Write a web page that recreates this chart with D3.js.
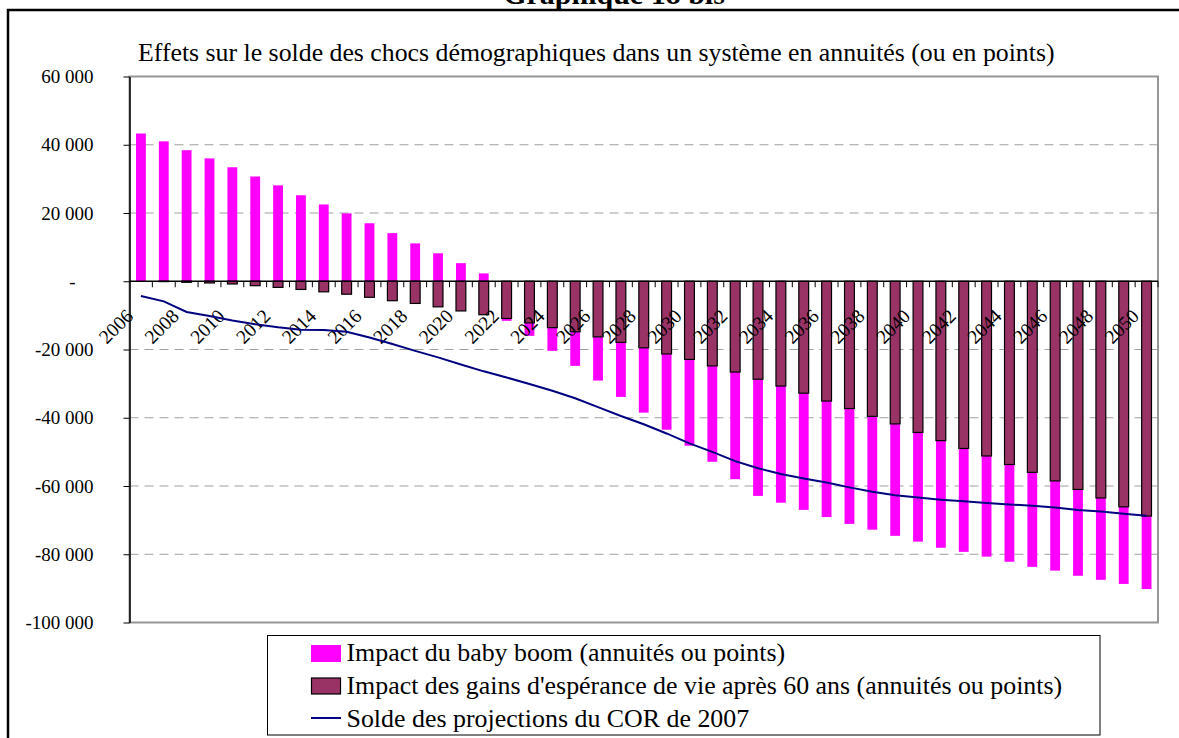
<!DOCTYPE html>
<html>
<head>
<meta charset="utf-8">
<script src="https://cdnjs.cloudflare.com/ajax/libs/d3/7.8.5/d3.min.js"></script>
<style>
  body { margin: 0; background: #fff; }
  svg { display: block; font-family: "Liberation Serif", "Times New Roman", serif; }
</style>
</head>
<body>
<svg id="chart" width="1179" height="738"></svg>
<script>
// categories
const years = [2006, 2007, 2008, 2009, 2010, 2011, 2012, 2013, 2014, 2015,
  2016, 2017, 2018, 2019, 2020, 2021, 2022, 2023, 2024, 2025,
  2026, 2027, 2028, 2029, 2030, 2031, 2032, 2033, 2034, 2035,
  2036, 2037, 2038, 2039, 2040, 2041, 2042, 2043, 2044, 2045,
  2046, 2047, 2048, 2049, 2050];

// Impact du baby boom (pink)
const babyBoom = [43300, 41000, 38400, 36000, 33400, 30700, 28100, 25200, 22500, 19900,
  17000, 14100, 11100, 8200, 5300, 2300, -700, -3800, -6800, -10000,
  -12800, -16000, -19000, -22200, -25300, -28100, -31400, -34200, -34200, -34200,
  -34000, -33800, -33200, -32800, -32000, -31400, -30300, -29500, -28500, -27700,
  -26300, -25300, -24000, -22600, -21400];

// Impact des gains d'espérance de vie (maroon)
const gainsEsperance = [0, -100, -300, -500, -800, -1300, -1800, -2400, -3100, -3800,
  -4700, -5700, -6500, -7500, -8700, -9800, -10900, -12200, -13600, -14800,
  -16300, -17900, -19500, -21300, -22900, -24800, -26600, -28700, -30700, -32800,
  -35100, -37300, -39600, -41800, -44300, -46700, -49000, -51200, -53700, -56000,
  -58500, -61000, -63500, -66100, -68800];

// Solde des projections du COR de 2007 (line)
const soldeCor = [-4300, -5900, -9000, -10200, -11500, -12600, -13500, -14200, -14300, -14800,
  -16500, -18400, -20400, -22300, -24400, -26400, -28200, -30100, -32100, -34300,
  -36900, -39500, -41900, -44600, -47500, -50000, -52700, -54800, -56500, -57800,
  -59000, -60400, -61700, -62700, -63400, -64000, -64500, -65000, -65400, -65800,
  -66300, -67000, -67500, -68100, -68700];

const yTicks = [60000, 40000, 20000, 0, -20000, -40000, -60000, -80000, -100000];

const legendLabels = [
  'Impact du baby boom (annuités ou points)',
  "Impact des gains d'espérance de vie après 60 ans (annuités ou points)",
  'Solde des projections du COR de 2007'
];

const PINK = '#ff00ff';
const MAROON = '#993366';
const NAVY = '#000080';

const svg = d3.select('#chart');
const plot = { left: 129.5, right: 1158, top: 76.5, bottom: 622.5 };

const x = d3.scaleBand()
  .domain(years)
  .range([plot.left, plot.right])
  .paddingInner(0.57)
  .paddingOuter(0.285);

const y = d3.scaleLinear()
  .domain([-100000, 60000])
  .range([plot.bottom, plot.top]);

const fr = d3.formatLocale({ decimal: ',', thousands: ' ', grouping: [3], currency: ['', ''], minus: '-' });
const fmt = fr.format(',.0f');

// outer frame (page box) and page title, cut at the top like the source
svg.append('path')
  .attr('d', 'M8,738 V10 H1179')
  .attr('fill', 'none')
  .attr('stroke', '#000')
  .attr('stroke-width', 2.5);

svg.append('text')
  .attr('x', 614)
  .attr('y', 4)
  .attr('text-anchor', 'middle')
  .style('font-size', '30px')
  .style('font-weight', 'bold')
  .text('Graphique 18 bis');

// chart title
svg.append('text')
  .attr('x', 138)
  .attr('y', 61)
  .style('font-size', '25.8px')
  .text('Effets sur le solde des chocs démographiques dans un système en annuités (ou en points)');

// gridlines
svg.append('g')
  .selectAll('line')
  .data(yTicks.filter(v => v !== 0 && v !== 60000 && v !== -100000))
  .join('line')
  .attr('x1', plot.left)
  .attr('x2', plot.right)
  .attr('y1', d => y(d))
  .attr('y2', d => y(d))
  .attr('stroke', '#a0a0a0')
  .attr('stroke-width', 1)
  .attr('stroke-dasharray', '9,6');

// plot area border
svg.append('rect')
  .attr('x', plot.left)
  .attr('y', plot.top)
  .attr('width', plot.right - plot.left)
  .attr('height', plot.bottom - plot.top)
  .attr('fill', 'none')
  .attr('stroke', '#969696')
  .attr('stroke-width', 2);

// stacked bars
const rows = years.map((yr, i) => ({ year: yr, gains: gainsEsperance[i], baby: babyBoom[i] }));
const stacked = d3.stack()
  .keys(['gains', 'baby'])
  .offset(d3.stackOffsetDiverging)(rows);

const colors = { gains: MAROON, baby: PINK };

// pink first, maroon on top so its outline stays visible
[stacked[1], stacked[0]].forEach(s => {
  svg.append('g')
    .selectAll('rect')
    .data(s)
    .join('rect')
    .attr('x', d => x(d.data.year))
    .attr('width', x.bandwidth())
    .attr('y', d => y(d[1]))
    .attr('height', d => y(d[0]) - y(d[1]))
    .attr('fill', colors[s.key])
    .attr('stroke', s.key === 'gains' ? '#000' : 'none')
    .attr('stroke-width', 1.2);
});

// y axis
const yAxis = svg.append('g')
  .attr('transform', `translate(${plot.left},0)`)
  .call(d3.axisLeft(y).tickValues(yTicks).tickSize(6).tickSizeOuter(0).tickPadding(30)
    .tickFormat(v => v === 0 ? '-' : fmt(v)));
yAxis.attr('font-family', null).attr('font-size', null);
yAxis.selectAll('text').style('font-size', '19px').attr('fill', '#000');
yAxis.selectAll('line').attr('stroke', '#000');
yAxis.select('.domain').attr('stroke', '#000').attr('stroke-width', 1.5);
yAxis.selectAll('.tick').filter(d => d === 0).select('text').attr('dx', -18);

// x axis along zero
const y0 = y(0);
svg.append('line')
  .attr('x1', plot.left)
  .attr('x2', plot.right)
  .attr('y1', y0)
  .attr('y2', y0)
  .attr('stroke', '#000')
  .attr('stroke-width', 1.5);

const gap = (x.step() - x.bandwidth()) / 2;
svg.append('g')
  .selectAll('line')
  .data(years.slice(1).map(yr => x(yr) - gap).concat([plot.right]))
  .join('line')
  .attr('x1', d => d)
  .attr('x2', d => d)
  .attr('y1', y0)
  .attr('y2', y0 + 6)
  .attr('stroke', '#000')
  .attr('stroke-width', 1);

svg.append('g')
  .selectAll('text')
  .data(years.filter(yr => yr % 2 === 0))
  .join('text')
  .attr('transform', d => `translate(${x(d) + x.bandwidth() / 2 - 6.5},${y0 + 36}) rotate(-45)`)
  .attr('text-anchor', 'end')
  .style('font-size', '19.5px')
  .text(d => d);

// solde line
const line = d3.line()
  .x((d, i) => x(years[i]) + x.bandwidth() / 2)
  .y(d => y(d));

svg.append('path')
  .datum(soldeCor)
  .attr('d', line)
  .attr('fill', 'none')
  .attr('stroke', NAVY)
  .attr('stroke-width', 2);

// legend
const legend = svg.append('g');
legend.append('rect')
  .attr('x', 267.5)
  .attr('y', 635.5)
  .attr('width', 832.5)
  .attr('height', 99.5)
  .attr('fill', '#fff')
  .attr('stroke', '#000')
  .attr('stroke-width', 1);

legend.append('rect')
  .attr('x', 311).attr('y', 645).attr('width', 30).attr('height', 17)
  .attr('fill', PINK);
legend.append('rect')
  .attr('x', 311.5).attr('y', 678).attr('width', 29).attr('height', 16)
  .attr('fill', MAROON).attr('stroke', '#000').attr('stroke-width', 1.2);
legend.append('line')
  .attr('x1', 311).attr('x2', 341).attr('y1', 718).attr('y2', 718)
  .attr('stroke', NAVY).attr('stroke-width', 2);

legend.selectAll('text.lbl')
  .data(legendLabels)
  .join('text')
  .attr('class', 'lbl')
  .attr('x', 346.5)
  .attr('y', (d, i) => [661, 694, 727][i])
  .style('font-size', '25.9px')
  .text(d => d);
</script>
</body>
</html>
